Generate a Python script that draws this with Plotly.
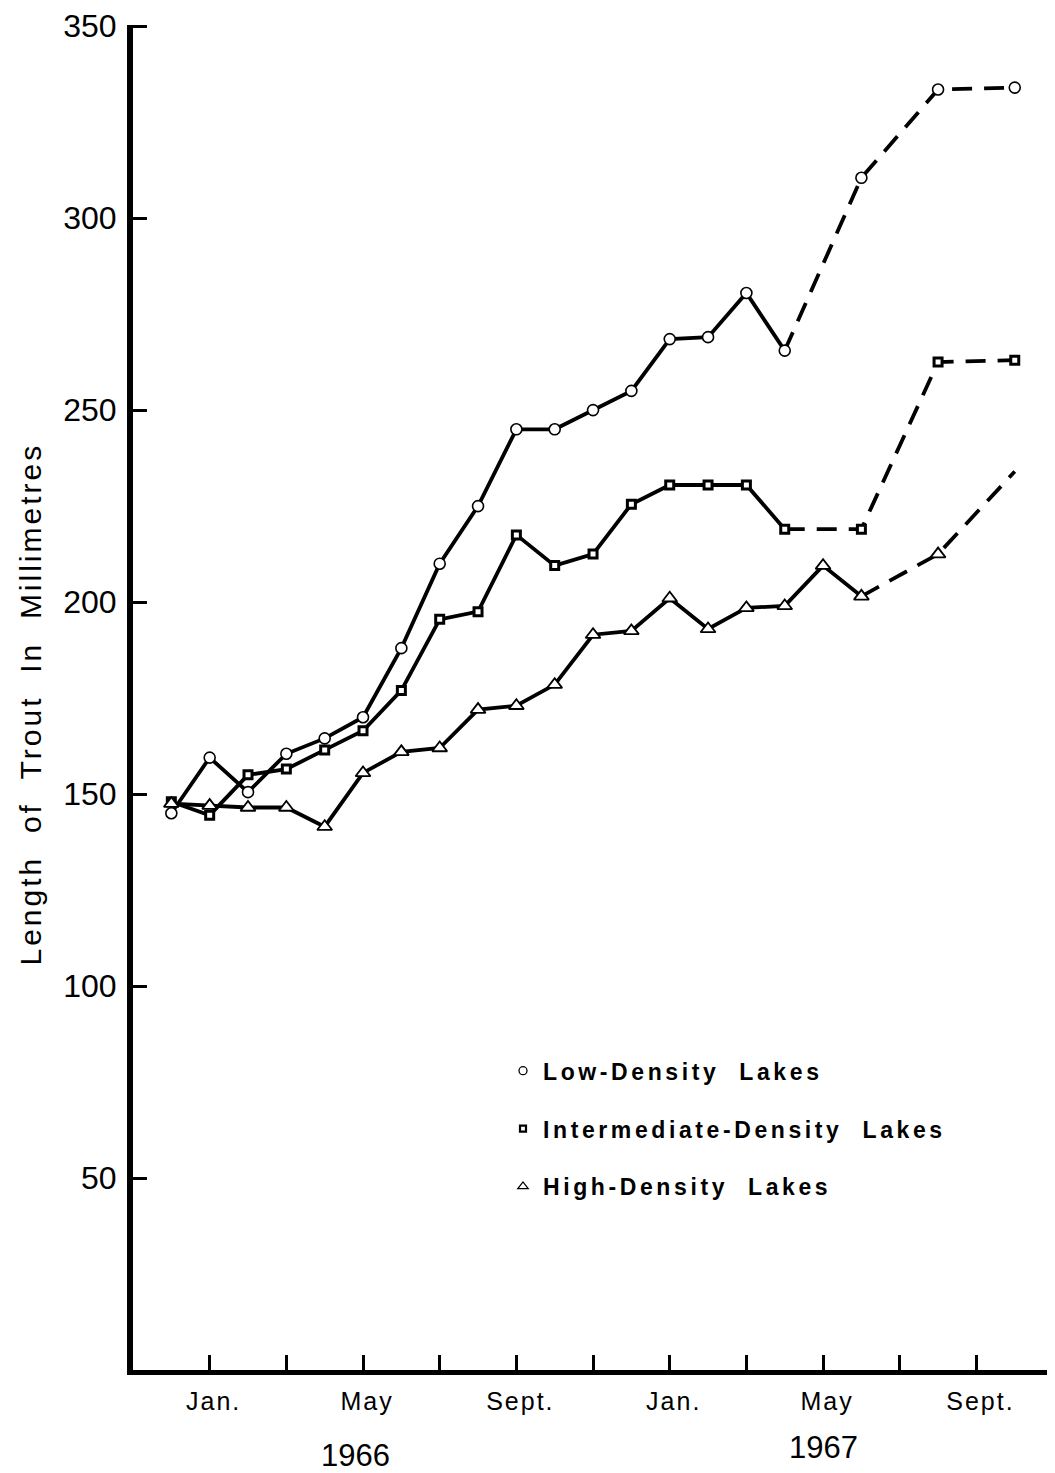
import plotly.graph_objects as go

# Month index: 0 = Dec 1965, 1 = Jan 1966, ... 13 = Jan 1967, ...
low_months = [0, 1, 2, 3, 4, 5, 6, 7, 8, 9, 10, 11, 12, 13, 14, 15, 16, 18, 20, 22]
low_vals = [145, 159.5, 150.5, 160.5, 164.5, 170, 188, 210, 225, 245, 245, 250, 255, 268.5, 269, 280.5, 265.5, 310.5, 333.5, 334]
low_solid_n = 17

int_months = [0, 1, 2, 3, 4, 5, 6, 7, 8, 9, 10, 11, 12, 13, 14, 15, 16, 18, 20, 22]
int_vals = [148, 144.5, 155, 156.5, 161.5, 166.5, 177, 195.5, 197.5, 217.5, 209.5, 212.5, 225.5, 230.5, 230.5, 230.5, 219, 219, 262.5, 263]
int_solid_n = 17

high_months = [0, 1, 2, 3, 4, 5, 6, 7, 8, 9, 10, 11, 12, 13, 14, 15, 16, 17, 18, 20, 22]
high_vals = [147.5, 147, 146.5, 146.5, 141.5, 155.5, 161, 162, 172, 173, 178.5, 191.5, 192.5, 201, 193, 198.5, 199, 209.5, 201.5, 212.5, 234]
high_solid_n = 19
high_marker_n = 20  # last point has no marker

tick_vals = [1, 3, 5, 7, 9, 11, 13, 15, 17, 19, 21, 23]
tick_labels = ["Jan.", "", "May", "", "Sept.", "", "Jan.", "", "May", "", "Sept.", ""]
y_ticks = [50, 100, 150, 200, 250, 300, 350]
years = ["1966", "1967"]
year_pos = [5, 17]

legend_labels = ["Low-Density\u00a0\u00a0Lakes", "Intermediate-Density\u00a0\u00a0Lakes", "High-Density\u00a0\u00a0Lakes"]
y_title = "Length\u00a0\u00a0of\u00a0\u00a0Trout\u00a0\u00a0In\u00a0\u00a0Millimetres"


def spaced(text, px):
    return '<span style="letter-spacing:%spx">%s</span>' % (px, text)


FONT = "Liberation Sans, Arial, Helvetica, sans-serif"
LW = 3.8
DASH = "20px,12px"

fig = go.Figure()

series = [
    (low_months, low_vals, low_solid_n, len(low_months), "circle", 11, 1.6),
    (int_months, int_vals, int_solid_n, len(int_months), "square", 8, 3.0),
    (high_months, high_vals, high_solid_n, high_marker_n, "triangle-up", 13, 1.8),
]

for xs, ys, ns, nm, sym, sz, mlw in series:
    fig.add_trace(go.Scatter(x=xs[:ns], y=ys[:ns], mode="lines",
                             line=dict(color="black", width=LW), showlegend=False, hoverinfo="skip"))
    fig.add_trace(go.Scatter(x=xs[ns - 1:], y=ys[ns - 1:], mode="lines",
                             line=dict(color="black", width=LW, dash=DASH), showlegend=False, hoverinfo="skip"))

for xs, ys, ns, nm, sym, sz, mlw in series:
    fig.add_trace(go.Scatter(x=xs[:nm], y=ys[:nm], mode="markers",
                             marker=dict(symbol=sym, size=sz, color="white",
                                         line=dict(color="black", width=mlw)),
                             showlegend=False))

leg_markers = [("circle", 8, 1.3), ("square", 6, 2.2), ("triangle-up", 9, 1.3)]
for i, (name, (sym, sz, mlw)) in enumerate(zip(legend_labels, leg_markers)):
    fig.add_trace(go.Scatter(x=[None], y=[None], mode="markers", name=spaced(name, 3.6),
                             legendgroup="g%d" % i,
                             marker=dict(symbol=sym, size=sz, color="white",
                                         line=dict(color="black", width=mlw))))

annotations = []
for yr, xp, yp, xs_ in zip(years, year_pos, [-0.0632, -0.0573], [-8, 0]):
    annotations.append(dict(x=xp, y=yp, xref="x", yref="paper", text=yr, showarrow=False,
                            xanchor="center", yanchor="middle", xshift=xs_,
                            font=dict(family=FONT, size=31, color="black")))
annotations.append(dict(x=-0.1117, y=0.4948, xref="paper", yref="paper",
                        text=spaced(y_title, 3), textangle=-90, showarrow=False,
                        xanchor="center", yanchor="middle",
                        font=dict(family=FONT, size=30, color="black")))

# The page body has an 8px margin, so the figure is 8px smaller than the window.
fig.update_layout(
    width=1047, height=1465,
    margin=dict(l=125, r=0, t=17, b=103),
    paper_bgcolor="white", plot_bgcolor="white",
    font=dict(family=FONT, color="black"),
    showlegend=True,
    legend=dict(x=0.4013, y=0.2385, xanchor="left", yanchor="top",
                bgcolor="rgba(0,0,0,0)", tracegroupgap=25,
                font=dict(family=FONT, size=23, color="black", weight="bold")),
    annotations=annotations,
    xaxis=dict(range=[-1.0, 23.05], showgrid=False, zeroline=False,
               showline=True, linecolor="black", linewidth=5,
               ticks="inside", ticklen=15, tickwidth=3, tickcolor="black",
               tickvals=tick_vals, ticktext=[spaced(t, 2) if t else "" for t in tick_labels],
               ticklabelstandoff=5, ticklabelshift=4,
               tickfont=dict(family=FONT, size=25, color="black")),
    yaxis=dict(range=[0, 350.3], showgrid=False, zeroline=False,
               showline=True, linecolor="black", linewidth=6,
               ticks="inside", ticklen=14, tickwidth=3, tickcolor="black",
               tickvals=y_ticks, ticklabelstandoff=4,
               tickfont=dict(family=FONT, size=32, color="black")),
)

fig.write_html("out.html")
